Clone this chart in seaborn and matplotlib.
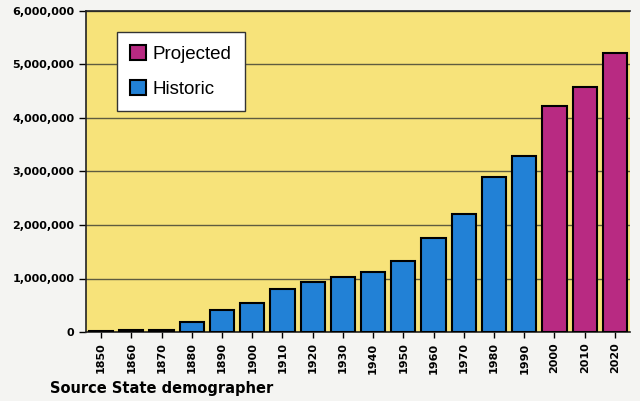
import seaborn as sb
import matplotlib.pyplot as plt
import matplotlib.ticker as mtick
import pandas as pd

#### data
years = ['1850', '1860', '1870', '1880', '1890', '1900', '1910', '1920', '1930',
         '1940', '1950', '1960', '1970', '1980', '1990', '2000', '2010', '2020']
population = [20000, 34000, 40000, 194000, 413000, 540000, 799000, 940000, 1036000,
              1123000, 1325000, 1754000, 2207000, 2890000, 3294000, 4220000, 4580000, 5210000]
kind = ['Historic'] * 15 + ['Projected'] * 3
yticks = [0, 1000000, 2000000, 3000000, 4000000, 5000000, 6000000]

colors = {'Historic': '#2281d6', 'Projected': '#b82a82'}

df = pd.DataFrame({'year': years, 'pop': population, 'kind': kind})

sb.set_style('white')
fig = plt.figure(figsize=(6.4, 4.01), dpi=100)
fig.patch.set_facecolor('#f4f4f2')
ax = fig.add_axes([86 / 640, 1 - 332 / 401, (630 - 86) / 640, (332 - 11) / 401])
ax.set_facecolor('#f7e37a')

sb.barplot(data=df, x='year', y='pop', hue='kind', palette=colors, dodge=False,
           saturation=1, width=0.8, edgecolor='black', linewidth=1.5, ax=ax, zorder=3)

ax.set_ylim(0, 6000000)
ax.set_yticks(yticks)
ax.yaxis.set_major_formatter(mtick.StrMethodFormatter('{x:,.0f}'))
ax.grid(axis='y', color='#5e5c40', linewidth=1, zorder=0)
ax.set_axisbelow(True)
ax.tick_params(axis='y', length=5, width=1, direction='out', left=True, labelsize=8,
               colors='black')
ax.tick_params(axis='x', length=4, width=1, direction='out', bottom=True, labelsize=8,
               labelrotation=90, colors='black')
for lb in ax.get_yticklabels() + ax.get_xticklabels():
    lb.set_fontweight('bold')
ax.set_xlabel('')
ax.set_ylabel('')
for s in ['left', 'bottom', 'top']:
    ax.spines[s].set_color('#222222')
    ax.spines[s].set_linewidth(1.2)
ax.spines['right'].set_visible(False)

# legend: Projected first
handles, labels = ax.get_legend_handles_labels()
order = [labels.index('Projected'), labels.index('Historic')]
leg = ax.legend([handles[i] for i in order], [labels[i] for i in order],
                loc='upper left', bbox_to_anchor=(0.057, 0.935),
                prop={'family': 'Liberation Sans', 'size': 13.5}, labelcolor='black',
                frameon=True, fancybox=False, edgecolor='#333333',
                handlelength=0.85, handleheight=0.85, handletextpad=0.35,
                labelspacing=0.9, borderpad=0.7, borderaxespad=0)
leg.get_frame().set_facecolor('white')
leg.get_frame().set_alpha(1)

fig.text(50 / 640, 1 - 388 / 401, 'Source State demographer', fontsize=10.5,
         fontweight='heavy', va='center', ha='left', color='black')

plt.savefig('out.png', dpi=100, facecolor=fig.get_facecolor())
